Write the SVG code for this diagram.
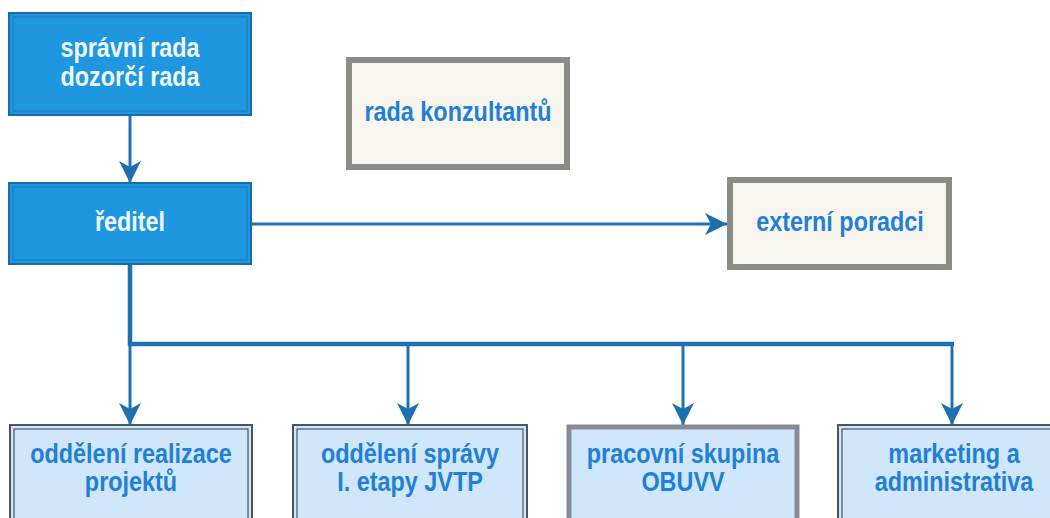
<svg xmlns="http://www.w3.org/2000/svg" width="1050" height="518" viewBox="0 0 1050 518">
<defs>
<style>
.t{font-family:"Liberation Sans",Arial,sans-serif;font-weight:bold;font-size:23.4px;text-anchor:middle}
.tw{fill:#eef8ff}
.tb{fill:#1f80d6}
.c{fill:none;stroke:#1d72b2;stroke-width:3}
.cb{fill:none;stroke:#1d72b2;stroke-width:4.5}
.dark{fill:#1e96e0;stroke:#1a6ea8;stroke-width:2}
.darkin{fill:none;stroke:#1a79bb;stroke-width:1}
.gray{fill:#f7f5ee;stroke:#8b8b88;stroke-width:6}
.light{fill:#d0e6fa;stroke:#4b5561;stroke-width:2}
.lightin{fill:none;stroke:#4b5561;stroke-width:1.2}
.lightg{fill:#d0e6fa;stroke:#858c95;stroke-width:5}
</style>
<marker id="ah" markerUnits="userSpaceOnUse" markerWidth="24" markerHeight="22" refX="22" refY="11" orient="auto">
<path d="M0,0 L22,11 L0,22 L6,11 z" fill="#1d6fad"/>
</marker>
</defs>
<rect width="1050" height="518" fill="#ffffff"/>
<g id="connectors">
<line class="c" x1="130" y1="115" x2="130" y2="183" marker-end="url(#ah)"/>
<line class="c" x1="251" y1="224" x2="727" y2="224" marker-end="url(#ah)"/>
<line class="cb" x1="130" y1="264" x2="130" y2="346"/>
<line class="cb" x1="128" y1="344" x2="954" y2="344"/>
<line class="c" x1="130" y1="344" x2="130" y2="425" marker-end="url(#ah)"/>
<line class="c" x1="408" y1="344" x2="408" y2="425" marker-end="url(#ah)"/>
<line class="c" x1="683" y1="344" x2="683" y2="425" marker-end="url(#ah)"/>
<line class="c" x1="952" y1="344" x2="952" y2="425" marker-end="url(#ah)"/>
</g>
<g id="n-sprava">
<rect class="dark" x="9" y="13" width="242" height="102"/>
<rect class="darkin" x="13" y="17" width="234" height="94"/>
<text class="t tw" transform="translate(130,57) scale(1,1.15)">správní rada</text>
<text class="t tw" transform="translate(130,86) scale(1,1.15)">dozorčí rada</text>
</g>
<g id="n-konzultanti">
<rect class="gray" x="349" y="60" width="218" height="107"/>
<text class="t tb" transform="translate(458,121) scale(1,1.15)">rada konzultantů</text>
</g>
<g id="n-reditel">
<rect class="dark" x="9" y="183" width="242" height="81"/>
<rect class="darkin" x="13" y="187" width="234" height="73"/>
<text class="t tw" transform="translate(130,231) scale(1,1.15)">ředitel</text>
</g>
<g id="n-externi">
<rect class="gray" x="730" y="180" width="219" height="87"/>
<text class="t tb" transform="translate(840,231) scale(1,1.15)">externí poradci</text>
</g>
<g id="n-realizace">
<rect class="light" x="10" y="425" width="242" height="100"/>
<rect class="lightin" x="14" y="429" width="234" height="100"/>
<text class="t tb" transform="translate(131,463) scale(1,1.15)">oddělení realizace</text>
<text class="t tb" transform="translate(131,491) scale(1,1.15)">projektů</text>
</g>
<g id="n-spravy">
<rect class="light" x="293" y="425" width="234" height="100"/>
<rect class="lightin" x="297" y="429" width="226" height="100"/>
<text class="t tb" transform="translate(410,463) scale(1,1.15)">oddělení správy</text>
<text class="t tb" transform="translate(410,491) scale(1,1.15)">I. etapy JVTP</text>
</g>
<g id="n-obuvv">
<rect class="lightg" x="569" y="427" width="228" height="100"/>
<text class="t tb" transform="translate(683,463) scale(1,1.15)">pracovní skupina</text>
<text class="t tb" transform="translate(683,491) scale(1,1.15)">OBUVV</text>
</g>
<g id="n-marketing">
<rect class="light" x="838" y="425" width="240" height="100"/>
<rect class="lightin" x="842" y="429" width="232" height="100"/>
<text class="t tb" transform="translate(954,463) scale(1,1.15)">marketing a</text>
<text class="t tb" transform="translate(954,491) scale(1,1.15)">administrativa</text>
</g>
</svg>
